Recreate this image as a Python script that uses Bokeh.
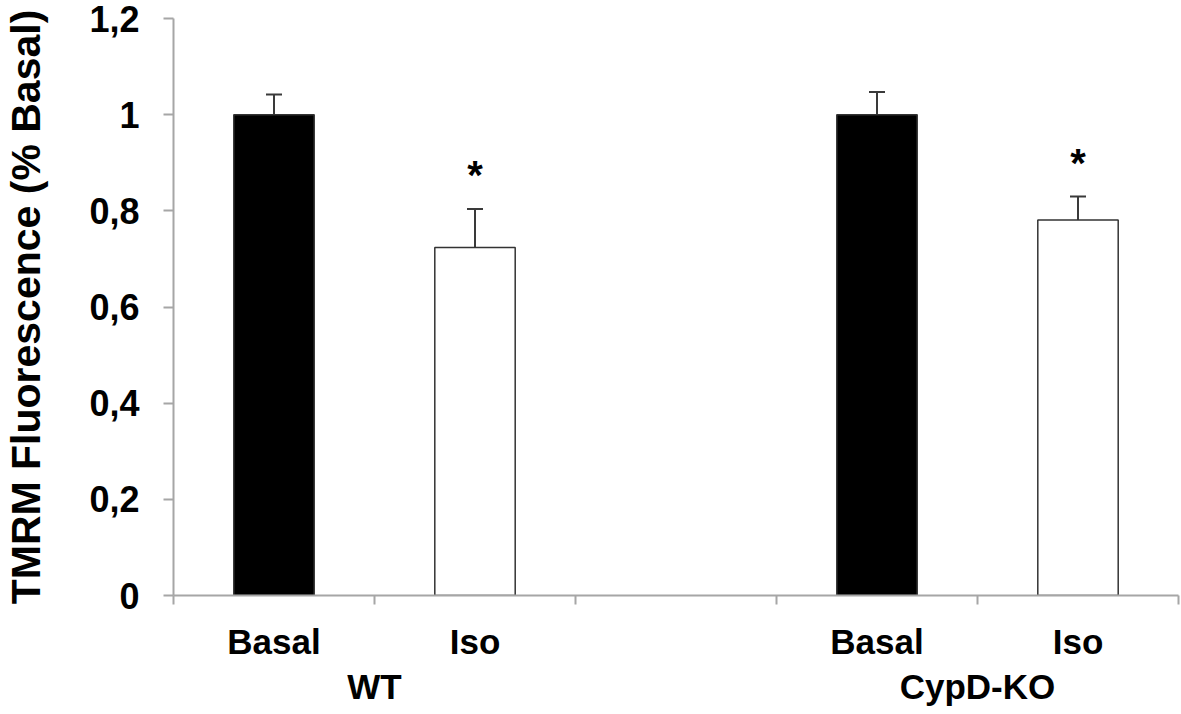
from bokeh.plotting import figure
from bokeh.models import Range1d, FixedTicker, Whisker, ColumnDataSource, LinearAxis
from bokeh.core.properties import value
from bokeh.embed import file_html
from bokeh.resources import INLINE

# ---- data ----
conditions = ["Basal", "Iso", "Basal", "Iso"]
groups = ["WT", "CypD-KO"]
means = [1.0, 0.724, 1.0, 0.781]
errors = [0.042, 0.080, 0.047, 0.049]
significant = [False, True, False, True]
fills = ["black", "white", "black", "white"]
y_ticks = [0, 0.2, 0.4, 0.6, 0.8, 1.0, 1.2]
y_tick_labels = ["0", "0,2", "0,4", "0,6", "0,8", "1", "1,2"]

# slot layout: 5 slots, third one empty
slot_pos = [0.5, 1.5, 3.5, 4.5]
group_pos = [1.0, 4.0]
boundaries = [0, 1, 2, 3, 4, 5]

FONT = "Liberation Sans"
AX_COL = "#a6a6a6"

p = figure(width=1180, height=712, x_range=Range1d(0, 5), y_range=Range1d(0, 1.2),
           output_backend="svg", toolbar_location=None,
           min_border_left=171, min_border_right=2, min_border_top=18, min_border_bottom=117,
           x_axis_location=None, y_axis_location=None)
p.outline_line_color = None
p.xgrid.visible = False
p.ygrid.visible = False
p.background_fill_color = "white"
p.border_fill_color = "white"

src = ColumnDataSource(dict(x=slot_pos, top=means, fill=fills,
                            upper=[m + e for m, e in zip(means, errors)]))
p.vbar(x="x", top="top", width=0.4, bottom=0, fill_color="fill", line_color="#333333",
       line_width=1.5, source=src)

w = Whisker(base="x", upper="upper", lower="top", source=src, line_color="#3a3a3a",
            line_width=2, dimension="height")
w.upper_head.size = 16
w.upper_head.line_color = "#3a3a3a"
w.upper_head.line_width = 2
w.lower_head = None
p.add_layout(w)

star_x = [x for x, s in zip(slot_pos, significant) if s]
star_y = [m + e + 0.07 for m, e, s in zip(means, errors, significant) if s]
p.text(x=star_x, y=star_y, text=["*"] * len(star_x), text_align="center",
       text_baseline="middle", text_font=value(FONT), text_font_style="bold",
       text_font_size="40px", text_color="black")

# y axis
yax = LinearAxis(ticker=FixedTicker(ticks=y_ticks),
                 major_label_overrides={t: l for t, l in zip(y_ticks, y_tick_labels)})
yax.axis_label = "TMRM Fluorescence (% Basal)"
yax.axis_label_text_font = FONT
yax.axis_label_text_font_style = "bold"
yax.axis_label_text_font_size = "41px"
yax.axis_label_text_color = "black"
yax.axis_label_standoff = 37
yax.major_label_text_font = FONT
yax.major_label_text_font_style = "bold"
yax.major_label_text_font_size = "36px"
yax.major_label_text_color = "black"
yax.major_label_standoff = 24
yax.axis_line_color = AX_COL
yax.axis_line_width = 2
yax.major_tick_line_color = AX_COL
yax.major_tick_line_width = 2
yax.major_tick_out = 10
yax.major_tick_in = 0
yax.minor_tick_line_color = None
p.add_layout(yax, "left")

# x axis: condition labels, slot boundaries as minor ticks
xax = LinearAxis(ticker=FixedTicker(ticks=slot_pos, minor_ticks=boundaries),
                 major_label_overrides={t: l for t, l in zip(slot_pos, conditions)})
xax.major_label_text_font = FONT
xax.major_label_text_font_style = "bold"
xax.major_label_text_font_size = "35px"
xax.major_label_text_color = "black"
xax.major_label_standoff = 17
xax.axis_line_color = AX_COL
xax.axis_line_width = 2
xax.major_tick_line_color = None
xax.major_tick_out = 0
xax.major_tick_in = 0
xax.minor_tick_line_color = AX_COL
xax.minor_tick_line_width = 2
xax.minor_tick_out = 9
xax.minor_tick_in = 0
p.add_layout(xax, "below")

# second x axis: group labels
gax = LinearAxis(ticker=FixedTicker(ticks=group_pos, minor_ticks=[]),
                 major_label_overrides={t: l for t, l in zip(group_pos, groups)})
gax.major_label_text_font = FONT
gax.major_label_text_font_style = "bold"
gax.major_label_text_font_size = "35px"
gax.major_label_text_color = "black"
gax.major_label_standoff = 3
gax.axis_line_color = None
gax.major_tick_line_color = None
gax.minor_tick_line_color = None
gax.major_tick_out = 0
gax.major_tick_in = 0
p.add_layout(gax, "below")

open("out.html", "w").write(file_html(p, INLINE))
